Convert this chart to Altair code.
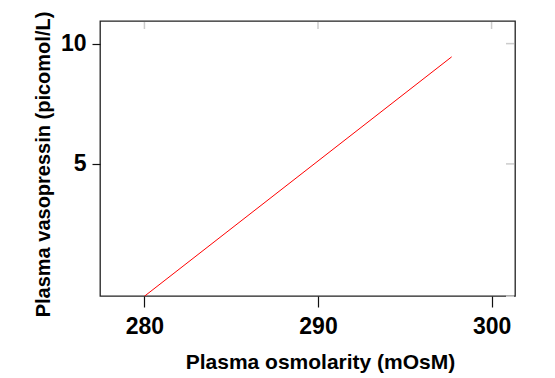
import altair as alt
import pandas as pd

# data
osmolarity = [280.0, 297.7]
vasopressin = [-0.5, 9.45]
x_ticks = [280, 290, 300]
y_ticks = [5, 10]
right_ticks = [-0.5, 5, 10]

FONT = "Liberation Sans"
x_dom = [277.44, 301.35]
y_dom = [-0.49, 10.94]

line_df = pd.DataFrame({"osm": osmolarity, "avp": vasopressin})
top_df = pd.DataFrame({"osm": x_ticks})
right_df = pd.DataFrame({"avp": right_ticks})

xscale = alt.Scale(domain=x_dom, nice=False, zero=False)
yscale = alt.Scale(domain=y_dom, nice=False, zero=False)

x_axis = alt.Axis(
    values=x_ticks, title="Plasma osmolarity (mOsM)", grid=False, domain=False,
    tickSize=11, tickColor="#111", tickWidth=1.2,
    labelFont=FONT, labelFontSize=23, labelFontWeight="bold", labelColor="#000",
    labelPadding=8,
    titleFont=FONT, titleFontSize=21, titleFontWeight="bold", titleColor="#000",
    titleX=220, titleY=72, titleAlign="center", titleBaseline="alphabetic",
)
y_axis = alt.Axis(
    values=y_ticks, title="Plasma vasopressin (picomol/L)", grid=False, domain=False,
    tickSize=8, tickColor="#111", tickWidth=1.2,
    labelFont=FONT, labelFontSize=23, labelFontWeight="bold", labelColor="#000",
    labelPadding=6,
    titleFont=FONT, titleFontSize=20, titleFontWeight="bold", titleColor="#000",
    titleX=-51, titleY=143, titleAlign="center", titleBaseline="alphabetic", titleAngle=-90,
)

X = alt.X("osm:Q", scale=xscale, axis=x_axis)
Y = alt.Y("avp:Q", scale=yscale, axis=y_axis)

line = alt.Chart(line_df).mark_line(color="#ff0000", strokeWidth=1, clip=True).encode(x=X, y=Y)

top_ticks = alt.Chart(top_df).mark_rule(color="#cccccc", strokeWidth=1.5).encode(
    x=X, y=alt.value(1), y2=alt.value(8),
)
right_tk = alt.Chart(right_df).mark_rule(color="#cccccc", strokeWidth=1.5).encode(
    y=Y, x=alt.value(406), x2=alt.value(414),
)

chart = alt.layer(line, top_ticks, right_tk).properties(
    width=415, height=275,
    autosize=alt.AutoSizeParams(type="none"),
    padding={"left": 100, "top": 21, "right": 40, "bottom": 82},
    background="white",
).configure_view(stroke="#222", strokeWidth=1.3)

chart.save("out.html", embed_options={"renderer": "svg", "actions": False})
